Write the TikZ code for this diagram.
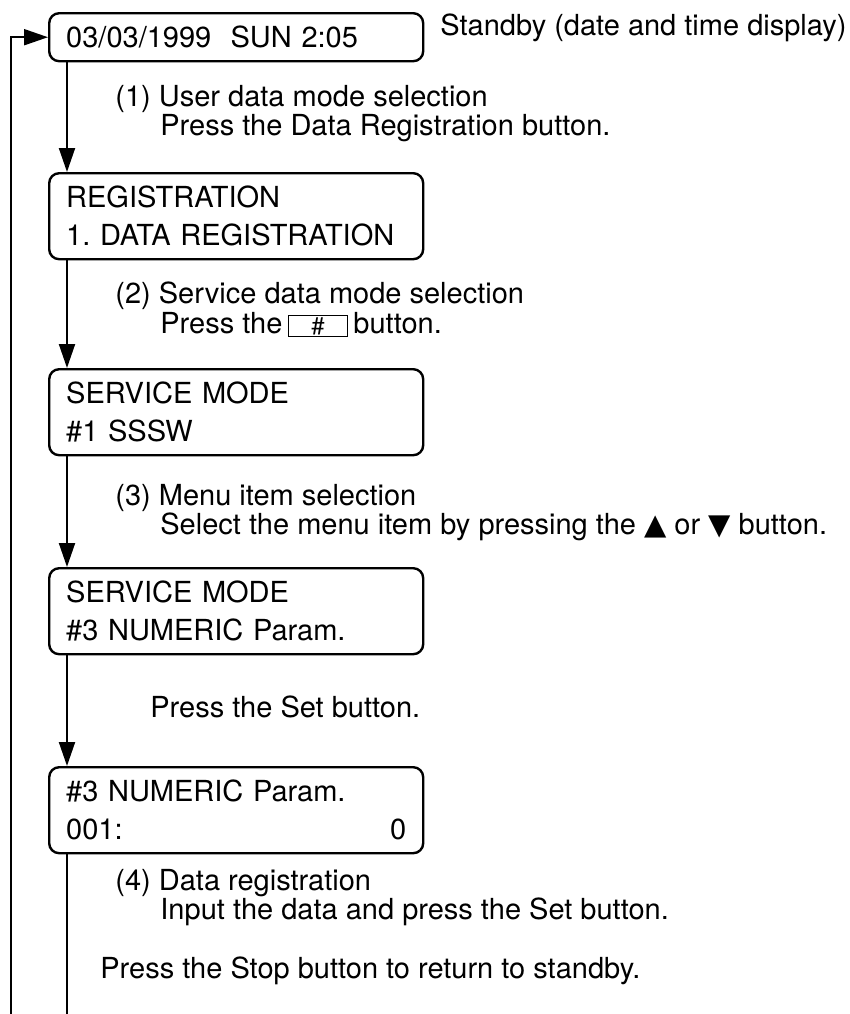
\documentclass[tikz,border=0pt]{standalone}
\usepackage{fontspec}
\setmainfont{TeX Gyre Heros}
\newfontfamily\symfont{DejaVu Sans}
\usetikzlibrary{arrows.meta,positioning}
\frenchspacing

\begin{document}
\begin{tikzpicture}[
  x=0.5pt,y=-0.5pt,
  font=\fontsize{14.5}{19}\selectfont,
  lcd/.style={draw,line width=1.2pt,rounded corners=5pt,anchor=north west,align=left,text width=170pt,inner xsep=8.5pt,inner ysep=0pt,minimum height=43pt},
  note/.style={anchor=base west,inner sep=0pt},
  keybox/.style={draw,line width=0.6pt,minimum width=29.5pt,minimum height=10.5pt,inner sep=0pt,font=\fontsize{12}{12}\selectfont},
  arrow/.style={-{Triangle[length=12pt,width=8pt]},line width=1pt},
  wire/.style={line width=1pt}
]
\useasboundingbox (0,0) rectangle (850,1014);
\node[lcd,minimum height=24pt] (standby) at (48,12) {03/03/1999\ \ SUN 2:05};
\node[lcd] (userreg) at (48,172) {REGISTRATION\\1. DATA REGISTRATION};
\node[lcd] (svc) at (48,368) {SERVICE MODE\\\#1 SSSW};
\node[lcd] (menu) at (48,567) {SERVICE MODE\\\#3 NUMERIC Param.};
\node[lcd] (numeric) at (48,766) {\#3 NUMERIC Param.\\001:\hfill 0};
\node[note] (standbynote) at (440,35) {Standby (date and time display)};
\node[note] (step1a) at (115,106) {(1) User data mode selection};
\node[note] (step1b) at (160,135) {Press the Data Registration button.};
\node[note] (step2a) at (115,303) {(2) Service data mode selection};
\node[note] (step2b) at (160,333) {Press the};
\node[keybox,anchor=south west,xshift=2.5pt,yshift=-2pt] (hashkey) at (step2b.base east) {\#};
\node[note,xshift=2.5pt] (step2c) at (hashkey.east |- step2b.base) {button.};
\node[note] (step3a) at (115,505) {(3) Menu item selection};
\node[note] (step3b) at (160,534) {Select the menu item by pressing the {\symfont ▲} or {\symfont ▼} button.};
\node[note] (setnote) at (150,717) {Press the Set button.};
\node[note] (step4a) at (115,890) {(4) Data registration};
\node[note] (step4b) at (160,919) {Input the data and press the Set button.};
\node[note] (stopnote) at (100,978) {Press the Stop button to return to standby.};
\coordinate (loopend) at (11,1014);
\coordinate (stopend) at (67,1014);
\foreach \a/\b in {standby/userreg,userreg/svc,svc/menu,menu/numeric}
  \draw[arrow] ([xshift=9.5pt]\a.south west) -- ([xshift=9.5pt]\b.north west);
\draw[wire] ([xshift=9.5pt]numeric.south west) -- (stopend);
\draw[arrow] (loopend) |- (standby.west);
\end{tikzpicture}
\end{document}
